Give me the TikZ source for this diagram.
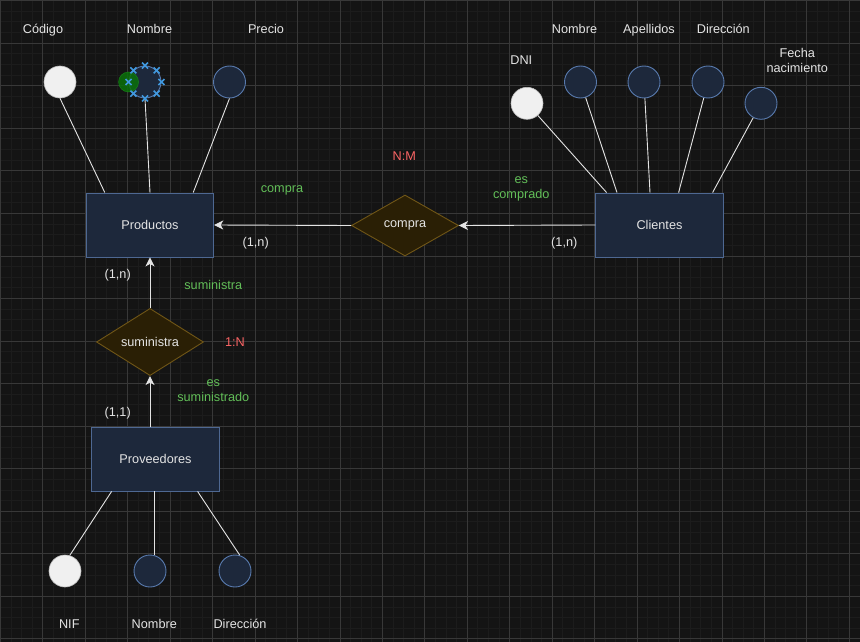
\documentclass[tikz,border=0pt]{standalone}
\usepackage{fontspec}
\setmainfont{Liberation Sans}
\usetikzlibrary{shapes.geometric,shapes.misc,arrows.meta}

\definecolor{bg}{RGB}{20,20,20}
\definecolor{gridminor}{RGB}{28,28,28}
\definecolor{gridmajor}{RGB}{56,56,56}
\definecolor{ink}{RGB}{228,228,228}
\definecolor{entfill}{RGB}{29,40,59}
\definecolor{entline}{RGB}{78,104,146}
\definecolor{attline}{RGB}{88,122,174}
\definecolor{relfill}{RGB}{42,31,5}
\definecolor{relline}{RGB}{112,86,22}
\definecolor{keyfill}{RGB}{240,240,240}
\definecolor{keyline}{RGB}{190,190,190}
\definecolor{roleg}{RGB}{98,190,88}
\definecolor{cardr}{RGB}{250,100,100}
\definecolor{selblue}{RGB}{64,152,222}
\definecolor{selgreen}{RGB}{10,112,10}
\definecolor{selrim}{RGB}{24,150,24}

\newcommand{\erfont}{\fontsize{12.7}{15}\selectfont}

\tikzset{
  entity/.style={draw=entline, fill=entfill, line width=0.9pt,
    minimum width=127.5pt, minimum height=64pt, inner sep=0pt,
    text=ink, font=\erfont},
  relation/.style={diamond, draw=relline, fill=relfill, line width=0.9pt,
    minimum width=107pt, minimum height=61pt, inner sep=0pt,
    text=ink, font=\erfont},
  attr/.style={circle, draw=attline, fill=entfill, line width=0.9pt,
    minimum size=32pt, inner sep=0pt},
  keyattr/.style={circle, draw=keyline, fill=keyfill, line width=0.6pt,
    minimum size=32pt, inner sep=0pt},
  link/.style={draw=ink, line width=0.9pt},
  arr/.style={link, -{Stealth[length=9pt,width=9pt,inset=2.5pt]}},
  lbl/.style={text=ink, font=\erfont, inner sep=0pt, text height=9pt, text depth=0pt},
  lbl2/.style={text=ink, font=\erfont, inner sep=0pt, align=center},
  role/.style={text=roleg, font=\erfont, inner sep=0pt, text height=9pt, text depth=0pt},
  role2/.style={text=roleg, font=\erfont, inner sep=0pt, align=center},
  card/.style={text=cardr, font=\erfont, inner sep=0pt, text height=9pt, text depth=0pt},
  handle/.style={cross out, draw=selblue, line width=1.5pt, minimum size=4.5pt, inner sep=0pt},
}

\begin{document}
\begin{tikzpicture}[x=1pt,y=-1pt]
  % canvas and background grid
  \useasboundingbox (0,0) rectangle (860,642);
  \fill[bg] (0,0) rectangle (860,642);
  \foreach \i in {0,...,80} {
    \draw[gridminor, line width=0.8pt] (0.3+\i*10.6125,0) -- (0.3+\i*10.6125,642);
  }
  \foreach \j in {0,...,60} {
    \draw[gridminor, line width=0.8pt] (0,0.6+\j*10.6375) -- (860,0.6+\j*10.6375);
  }
  \foreach \i in {0,...,20} {
    \draw[gridmajor, line width=0.8pt] (0.3+\i*42.45,0) -- (0.3+\i*42.45,642);
  }
  \foreach \j in {0,...,15} {
    \draw[gridmajor, line width=0.8pt] (0,0.6+\j*42.55) -- (860,0.6+\j*42.55);
  }

  % entities
  \node[entity] (prod) at (150,225) {Productos};
  \node[entity] (cli)  at (659.5,225) {Clientes};
  \node[entity] (prov) at (155.5,459) {Proveedores};

  % relationships
  \node[relation] (compra) at (405,225.5) {compra};
  \node[relation] (sum)    at (150,342) {suministra};

  % attributes of Productos
  \node[keyattr] (cod)     at (60,82) {};
  \node[attr]    (nomprod) at (145,82) {};
  \node[attr]    (prec)    at (229.5,82) {};

  % attributes of Clientes
  \node[keyattr] (dni)    at (527,103.3) {};
  \node[attr]    (nomcli) at (580.5,82) {};
  \node[attr]    (ape)    at (644,82) {};
  \node[attr]    (dir)    at (708,82) {};
  \node[attr]    (fec)    at (761,103.3) {};

  % attributes of Proveedores
  \node[keyattr] (nif)     at (65,571) {};
  \node[attr]    (nomprov) at (150,571) {};
  \node[attr]    (dirprov) at (235,571) {};

  % attribute links
  \draw[link] (cod.south) -- ([xshift=19pt]prod.north west);
  \draw[link] (nomprod.south) -- (prod.north);
  \draw[link] (prec.south) -- ([xshift=-21pt]prod.north east);
  \draw[link] (dni) -- ([xshift=11.3pt]cli.north west);
  \draw[link] (nomcli) -- ([xshift=21.7pt]cli.north west);
  \draw[link] (ape) -- ([xshift=54.7pt]cli.north west);
  \draw[link] (dir) -- ([xshift=83.3pt]cli.north west);
  \draw[link] (fec) -- ([xshift=117.3pt]cli.north west);
  \draw[link] (nif.73) -- ([xshift=20.3pt]prov.south west);
  \draw[link] (nomprov.73) -- (nomprov.73 |- prov.south);
  \draw[link] (dirprov.73) -- ([xshift=106.3pt]prov.south west);

  % relationship arrows
  \draw[arr] (cli.west) -- (compra.east);
  \draw[arr] (compra.west) -- (prod.east);
  \draw[arr] (sum.north) -- (prod.south);
  \draw[arr] (sum.south |- prov.north) -- (sum.south);

  % selection marks on the Nombre attribute
  \fill[selgreen, opacity=0.85] (nomprod.west) circle (10pt);
  \draw[selrim, opacity=0.6, line width=0.6pt] (nomprod.west) circle (10pt);
  \foreach \a in {0,45,...,315} {
    \node[handle] (h\a) at (nomprod.\a) {};
  }

  % attribute names
  \node[lbl] (tcod)     at (43,29)    {Código};
  \node[lbl] (tnomprod) at (149.5,29) {Nombre};
  \node[lbl] (tprec)    at (266,29)   {Precio};
  \node[lbl] (tdni)     at (521.3,60) {DNI};
  \node[lbl] (tnomcli)  at (574.5,29) {Nombre};
  \node[lbl] (tape)     at (649,29)   {Apellidos};
  \node[lbl] (tdir)     at (723.3,29) {Dirección};
  \node[lbl2] (tfec)    at (797.3,60.5) {Fecha\\nacimiento};
  \node[lbl] (tnif)     at (69.3,624)  {NIF};
  \node[lbl] (tnomprov) at (154.3,624) {Nombre};
  \node[lbl] (tdirprov) at (240,624)   {Dirección};

  % roles
  \node[role]  (rcompra) at (282,188)     {compra};
  \node[role2] (resc)    at (521.3,188.5) {es\\comprado};
  \node[role]  (rsum)    at (213.3,284.5) {suministra};
  \node[role2] (ress)    at (213.3,390.5) {es\\suministrado};

  % cardinalities
  \node[card] (knm) at (404.3,156) {N:M};
  \node[card] (k1n) at (235,341.7) {1:N};
  \node[lbl] (c1) at (255.7,241.7) {(1,n)};
  \node[lbl] (c2) at (564.3,241.7) {(1,n)};
  \node[lbl] (c3) at (117.7,274.3) {(1,n)};
  \node[lbl] (c4) at (117.7,412.3) {(1,1)};
\end{tikzpicture}
\end{document}
